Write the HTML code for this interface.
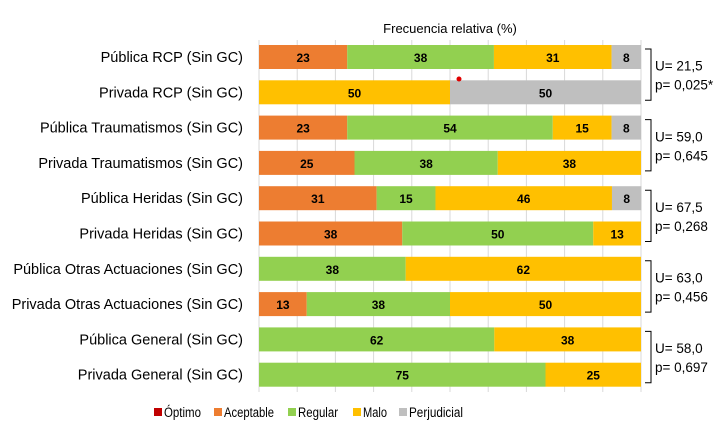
<!DOCTYPE html>
<html><head><meta charset="utf-8"><style>
body{margin:0;background:#fff;width:724px;height:432px;overflow:hidden;font-family:"Liberation Sans",sans-serif}
</style></head><body>
<svg id="c" width="724" height="432" font-family="Liberation Sans, sans-serif"></svg>
<script>
const categories=["Pública RCP (Sin GC)","Privada RCP (Sin GC)","Pública Traumatismos (Sin GC)","Privada Traumatismos (Sin GC)","Pública Heridas (Sin GC)","Privada Heridas (Sin GC)","Pública Otras Actuaciones (Sin GC)","Privada Otras Actuaciones (Sin GC)","Pública General (Sin GC)","Privada General (Sin GC)"];
const seriesNames=["Óptimo","Aceptable","Regular","Malo","Perjudicial"];
const optimo=[0,0,0,0,0,0,0,0,0,0];
const aceptable=[23.1,0,23.1,25,30.8,37.5,0,12.5,0,0];
const regular=[38.4,0,53.8,37.5,15.4,50,38.4,37.5,61.6,75];
const malo=[30.8,50,15.4,37.5,46.2,12.5,61.6,50,38.4,25];
const perjudicial=[7.7,50,7.7,0,7.7,0,0,0,0,0];
const stats=[["U= 21,5","p= 0,025*"],["U= 59,0","p= 0,645"],["U= 67,5","p= 0,268"],["U= 63,0","p= 0,456"],["U= 58,0","p= 0,697"]];
const xTicks=[0,10,20,30,40,50,60,70,80,90,100];
const colors=["#c00000","#ed7d31","#92d050","#ffc000","#bfbfbf"];
const svg=document.getElementById('c');const NS="http://www.w3.org/2000/svg";
function mk(t,a,p){const e=document.createElementNS(NS,t);for(const k in a)e.setAttribute(k,a[k]);(p||svg).appendChild(e);return e;}
const x0=259,x1=641,plotTop=40,rowH=35.3,barH=24;
const xs=v=>x0+(x1-x0)*v/100;
const yc=i=>plotTop+17+i*rowH;
const t=mk('text',{x:450,y:33,'text-anchor':'middle','font-size':13,fill:'#000'});t.textContent="Frecuencia relativa (%)";


xTicks.forEach(v=>{const l=mk('line',{x1:xs(v),x2:xs(v),y1:plotTop,y2:392,stroke:'#d9d9d9','stroke-width':1});

});
const series=[optimo,aceptable,regular,malo,perjudicial];
categories.forEach((c,i)=>{
 const lb=mk('text',{x:243,y:yc(i)+5,'text-anchor':'end','font-size':14.5,fill:'#000'});lb.textContent=c;
 
 
 let cum=0;
 series.forEach((s,k)=>{const v=s[i];if(v<=0)return;
  const r=mk('rect',{x:xs(cum),y:yc(i)-barH/2,width:xs(cum+v)-xs(cum),height:barH,fill:colors[k]});
  
  
  const tx=mk('text',{x:(xs(cum)+xs(cum+v))/2,y:yc(i)+5,'text-anchor':'middle','font-size':12,'font-weight':'bold',fill:'#000'});
  tx.textContent=Math.round(v);
  
  
  cum+=v;});
});
stats.forEach((s,j)=>{const ya=yc(2*j),yb=yc(2*j+1);
 const p=mk('path',{d:`M645 ${ya-8} H651 V${yb+8} H645`,fill:'none',stroke:'#000','stroke-width':1});
 
 
 const a=mk('text',{x:655,y:(ya+yb)/2-4,'font-size':13.5,fill:'#000'});a.textContent=s[0];
 
 
 const b=mk('text',{x:655,y:(ya+yb)/2+15,'font-size':13.5,fill:'#000'});b.textContent=s[1];
 
 
});
const dot=mk('circle',{cx:459,cy:79,r:2.5,fill:'#e00000'});


const lx=[154,214,288,353,399];
const lw=[37,50,40,24,54];
seriesNames.forEach((n,k)=>{const g=mk('g',{});
 
 
 mk('rect',{x:lx[k],y:408,width:8,height:8,fill:colors[k]},g);
 const tx=mk('text',{x:lx[k]+10,y:417,'font-size':13.5,fill:'#000',textLength:lw[k],lengthAdjust:'spacingAndGlyphs'},g);tx.textContent=n;});
</script></body></html>
